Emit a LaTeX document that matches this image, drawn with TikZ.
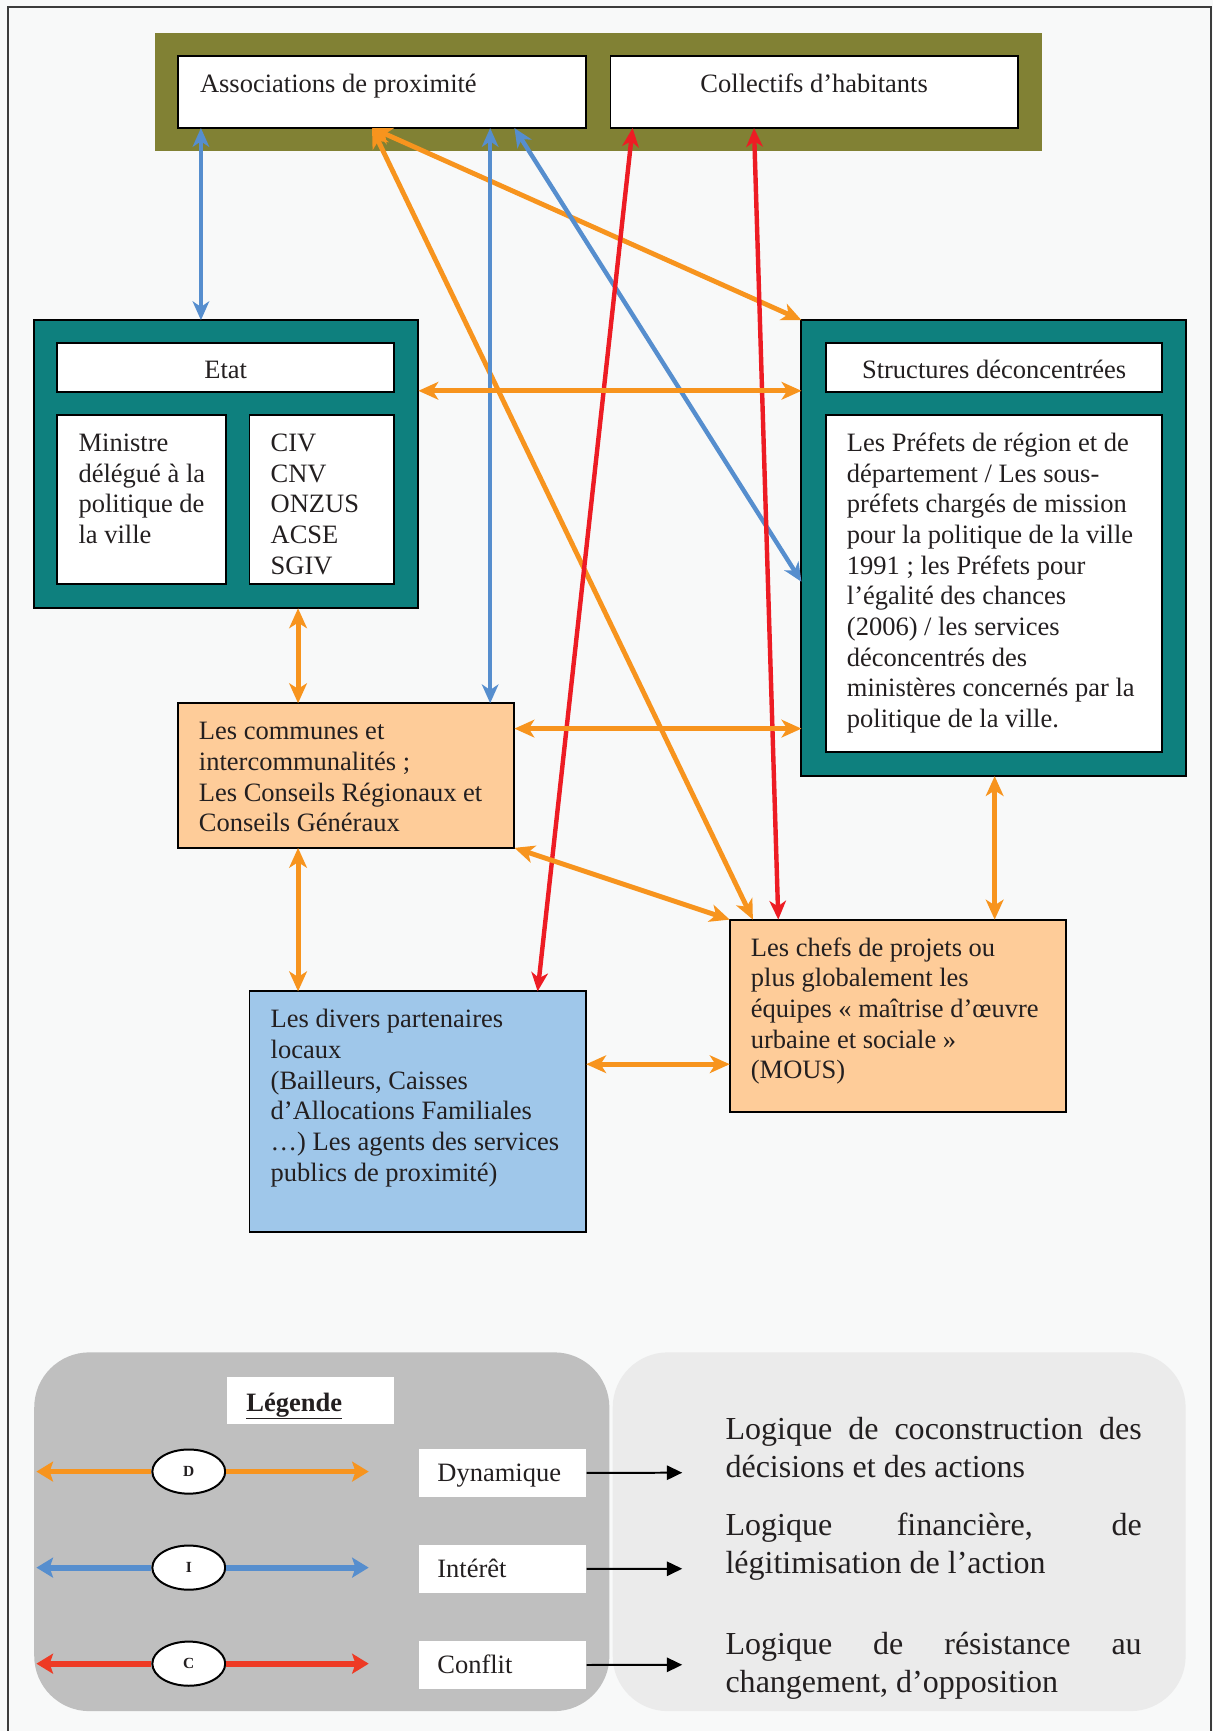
\documentclass[tikz,border=0pt]{standalone}
\usepackage{fontspec}
\setmainfont{Liberation Serif}
\usetikzlibrary{arrows.meta,shapes.geometric,calc}
\definecolor{bgc}{RGB}{248,249,249}
\definecolor{framec}{RGB}{60,60,60}
\definecolor{olivec}{RGB}{129,129,52}
\definecolor{tealc}{RGB}{14,128,126}
\definecolor{peachc}{RGB}{254,204,153}
\definecolor{lbluec}{RGB}{159,199,234}
\definecolor{orangec}{RGB}{247,148,30}
\definecolor{bluec}{RGB}{86,142,206}
\definecolor{redc}{RGB}{237,28,36}
\definecolor{lredc}{RGB}{238,58,36}
\definecolor{grayc}{RGB}{191,191,191}
\definecolor{lgrayc}{RGB}{235,235,235}
\definecolor{textc}{RGB}{35,31,32}
\tikzset{
  box/.style={draw=black, line width=1.8pt, anchor=north west, inner sep=0pt, outer sep=0pt},
  txt/.style={anchor=north west, inner sep=0pt, align=left, text=textc, font=\fontsize{24}{27.75}\selectfont},
  ctxt/.style={inner sep=0pt, text=textc, font=\fontsize{24}{27.75}\selectfont},
  ptxt/.style={anchor=north west, inner sep=0pt, align=left, text=textc, font=\fontsize{29}{34}\selectfont},
  lab/.style={fill=white, anchor=north west, inner xsep=17pt, inner ysep=0pt, text width=118pt, minimum height=44pt, align=left, text=textc, font=\fontsize{24}{27.75}\selectfont},
  orangearr/.style={draw=orangec, line width=4.4pt, arrows={Stealth[length=18pt,width=16pt,inset=5pt]-Stealth[length=18pt,width=16pt,inset=5pt]}},
  bluearr/.style={draw=bluec, line width=4pt, arrows={Stealth[length=17pt,width=15pt,inset=5pt]-Stealth[length=17pt,width=15pt,inset=5pt]}},
  redarr/.style={draw=redc, line width=4pt, arrows={Stealth[length=17pt,width=15pt,inset=5pt]-Stealth[length=17pt,width=15pt,inset=5pt]}},
  legarr/.style={line width=5.2pt, arrows={-Stealth[length=15pt,width=18pt,inset=3pt]}},
  blackarr/.style={draw=black, line width=1.8pt, arrows={-Triangle[length=14pt,width=13pt]}},
  legell/.style={ellipse, draw=black, line width=1.8pt, fill=white, minimum width=66pt, minimum height=40pt, inner sep=0pt, font=\fontsize{14}{16}\selectfont\bfseries, text=textc}
}
\begin{document}
\begin{tikzpicture}[x=1pt,y=-1pt]
\useasboundingbox (0,0) rectangle (1099,1568);
\fill[bgc] (0,0) rectangle (1099,1568);
\draw[framec, line width=2pt] (7,1570) -- (7,6) -- (1097,6) -- (1097,1570);

% top group
\node[box, fill=olivec, draw=none, minimum width=804pt, minimum height=107pt] (topgrp) at (140,30) {};
\node[box, fill=white, minimum width=370pt, minimum height=65pt] (assoc) at (161,51) {};
\node[box, fill=white, minimum width=369pt, minimum height=65pt] (coll) at (553,51) {};
\node[txt] (assoct) at ([xshift=20pt,yshift=-13.5pt]assoc.north west) {\strut Associations de proximité};
\node[ctxt, anchor=north] (collt) at ([yshift=-13.5pt]coll.north) {\strut Collectifs d’habitants};

% Etat
\node[box, fill=tealc, minimum width=348pt, minimum height=261pt] (etat) at (31,290) {};
\node[box, fill=white, minimum width=305pt, minimum height=44pt] (etath) at (52,311) {};
\node[ctxt] (etatt) at ([yshift=-2pt]etath.center) {Etat};
\node[box, fill=white, minimum width=153pt, minimum height=153pt] (mini) at (52,376) {};
\node[box, fill=white, minimum width=131pt, minimum height=153pt] (civ) at (226,376) {};
\node[txt] (minit) at ([xshift=19pt,yshift=-13.5pt]mini.north west) {\strut Ministre\\délégué à la\\politique de\\la ville};
\node[txt] (civt) at ([xshift=19pt,yshift=-13.5pt]civ.north west) {\strut CIV\\CNV\\ONZUS\\ACSE\\SGIV};

% Structures
\node[box, fill=tealc, minimum width=348pt, minimum height=413pt] (struct) at (726,290) {};
\node[box, fill=white, minimum width=305pt, minimum height=44pt] (structh) at (748,311) {};
\node[ctxt] (structt) at ([yshift=-2pt]structh.center) {Structures déconcentrées};
\node[box, fill=white, minimum width=305pt, minimum height=305pt] (pref) at (748,376) {};
\node[txt] (preft) at ([xshift=19pt,yshift=-13.5pt]pref.north west) {\strut Les Préfets de région et de\\département / Les sous-\\préfets chargés de mission\\pour la politique de la ville\\1991 ; les Préfets pour\\l’égalité des chances\\(2006) / les services\\déconcentrés des\\ministères concernés par la\\politique de la ville.};

% Communes
\node[box, fill=peachc, minimum width=305pt, minimum height=131pt] (comm) at (161,637) {};
\node[txt] (commt) at ([xshift=19pt,yshift=-13.5pt]comm.north west) {\strut Les communes et\\intercommunalités ;\\Les Conseils Régionaux et\\Conseils Généraux};

% Divers
\node[box, fill=lbluec, minimum width=305pt, minimum height=218pt] (divers) at (226,898) {};
\node[txt] (diverst) at ([xshift=19pt,yshift=-13.5pt]divers.north west) {\strut Les divers partenaires\\locaux\\(Bailleurs, Caisses\\d’Allocations Familiales\\…) Les agents des services\\publics de proximité)};

% MOUS
\node[box, fill=peachc, minimum width=305pt, minimum height=174pt] (mous) at (661,833) {};
\node[txt] (moust) at ([xshift=19pt,yshift=-13.5pt]mous.north west) {\strut Les chefs de projets ou\\plus globalement les\\équipes « maîtrise d'œuvre\\urbaine et sociale »\\(MOUS)};

% connectors
\draw[bluearr] ([xshift=21pt]assoc.south west) -- ([xshift=151pt]etat.north west);
\draw[orangearr] ([xshift=176pt]assoc.south west) -- (struct.north west);
\draw[orangearr] ([xshift=176pt]assoc.south west) -- ([xshift=21pt]mous.north west);
\draw[bluearr] ([xshift=283pt]assoc.south west) -- ([xshift=283pt]comm.north west);
\draw[bluearr] ([xshift=305pt]assoc.south west) -- ([yshift=-237pt]struct.north west);
\draw[redarr] ([xshift=20pt]coll.south west) -- ([xshift=261pt]divers.north west);
\draw[redarr] ([xshift=130pt]coll.south west) -- ([xshift=44pt]mous.north west);
\draw[orangearr] ([yshift=-64pt]etat.north east) -- ([yshift=-64pt]struct.north west);
\draw[orangearr] ([xshift=239pt]etat.south west) -- ([xshift=109pt]comm.north west);
\draw[orangearr] ([yshift=-23pt]comm.north east) -- ([yshift=-370pt]struct.north west);
\draw[orangearr] (comm.south east) -- (mous.north west);
\draw[orangearr] ([xshift=109pt]comm.south west) -- ([xshift=44pt]divers.north west);
\draw[orangearr] ([yshift=-66pt]divers.north east) -- ([yshift=-131pt]mous.north west);
\draw[orangearr] ([xshift=175pt]struct.south west) -- ([xshift=240pt]mous.north west);

% legend
\fill[lgrayc, rounded corners=50pt] (555,1225) rectangle (1074,1550);
\fill[grayc, rounded corners=50pt] (31,1225) rectangle (552,1550);
\node[lab, inner xsep=18pt, text width=116pt, minimum height=43pt, font=\fontsize{24}{27.75}\selectfont\bfseries] (legt) at (205,1247) {\raisebox{-5pt}[\height][\depth]{\underline{Légende}}};

\coordinate (lo1) at (33,1333);
\coordinate (lo2) at (334,1333);
\coordinate (lb1) at (33,1420);
\coordinate (lb2) at (334,1420);
\coordinate (lr1) at (33,1507);
\coordinate (lr2) at (334,1507);
\node[legell] (eD) at (171,1333) {D};
\node[legell] (eI) at (171,1420) {I};
\node[legell] (eC) at (171,1507) {C};
\draw[legarr, draw=orangec, fill=orangec] (eD.west) -- (lo1);
\draw[legarr, draw=orangec, fill=orangec] (eD.east) -- (lo2);
\draw[legarr, draw=bluec, fill=bluec] (eI.west) -- (lb1);
\draw[legarr, draw=bluec, fill=bluec] (eI.east) -- (lb2);
\draw[legarr, draw=lredc, fill=lredc] (eC.west) -- (lr1);
\draw[legarr, draw=lredc, fill=lredc] (eC.east) -- (lr2);

\node[lab] (ldyn) at (379,1312) {\raisebox{-2.5pt}[\height][\depth]{\strut Dynamique}};
\node[lab] (lint) at (379,1399) {\raisebox{-2.5pt}[\height][\depth]{\strut Intérêt}};
\node[lab] (lcon) at (379,1486) {\raisebox{-2.5pt}[\height][\depth]{\strut Conflit}};
\coordinate (r1) at (618,1334);
\coordinate (r2) at (618,1421);
\coordinate (r3) at (618,1508);
\draw[blackarr] (ldyn.east) -- (r1);
\draw[blackarr] (lint.east) -- (r2);
\draw[blackarr] (lcon.east) -- (r3);

\node[ptxt] (p1) at (657,1280) {\makebox[377pt][s]{\strut Logique de coconstruction des}\\décisions et des actions};
\node[ptxt] (p2) at (657,1367) {\makebox[377pt][s]{\strut Logique financière, de}\\légitimisation de l’action};
\node[ptxt] (p3) at (657,1475) {\makebox[377pt][s]{\strut Logique de résistance au}\\changement, d’opposition};
\end{tikzpicture}
\end{document}
